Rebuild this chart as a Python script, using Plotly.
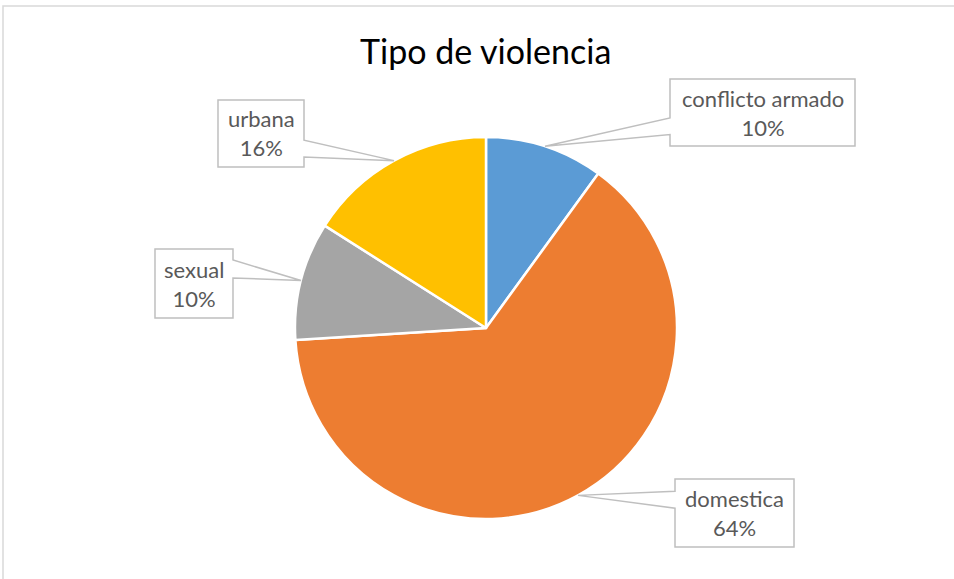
import math
import plotly.graph_objects as go

# ---- data ----
categories = ["conflicto armado", "domestica", "sexual", "urbana"]
values = [10, 64, 10, 16]
colors = ["#5B9BD5", "#ED7D31", "#A5A5A5", "#FFC000"]
title_text = "Tipo de violencia"

# ---- layout constants (pixels) ----
W, H = 954, 579
PIE_CX, PIE_CY, PIE_R = 486, 328, 191
# label boxes: left, top, right, bottom, wedge side, wedge base (start, end) as fraction of box height
BOXES = {
    "conflicto armado": (670, 79, 855, 146, "left", 0.58, 0.83),
    "domestica": (675, 479, 794, 547, "left", 0.18, 0.43),
    "sexual": (155, 249, 233, 318, "right", 0.16, 0.42),
    "urbana": (218, 100, 304, 167, "right", 0.60, 0.85),
}
FONT = "Lato, Carlito, sans-serif"


def px(x):
    return x / W


def py(y):
    return 1 - y / H


fig = go.Figure()
fig.add_trace(go.Pie(
    labels=categories,
    values=values,
    marker=dict(colors=colors, line=dict(color="white", width=2.5)),
    sort=False,
    direction="clockwise",
    rotation=0,
    textinfo="none",
    hoverinfo="label+percent",
    showlegend=False,
    domain=dict(x=[px(PIE_CX - PIE_R), px(PIE_CX + PIE_R)],
                y=[py(PIE_CY + PIE_R), py(PIE_CY - PIE_R)]),
))

shapes = []
annotations = []

# outer chart border (cropped frame)
shapes.append(dict(type="rect", xref="paper", yref="paper",
                   x0=px(3), x1=px(W + 10), y0=py(H + 10), y1=py(6),
                   line=dict(color="#D9D9D9", width=1.5), fillcolor="rgba(0,0,0,0)",
                   layer="below"))

total = sum(values)
cum = 0
for cat, v in zip(categories, values):
    mid = (cum + v / 2) / total * 2 * math.pi
    cum += v
    tx = PIE_CX + PIE_R * math.sin(mid)
    ty = PIE_CY - PIE_R * math.cos(mid)
    L, T, R, B, side, f1, f2 = BOXES[cat]
    h = B - T
    b1, b2 = T + f1 * h, T + f2 * h
    if side == "left":
        pts = [(L, T), (R, T), (R, B), (L, B), (L, b2), (tx, ty), (L, b1)]
    else:
        pts = [(L, T), (R, T), (R, b1), (tx, ty), (R, b2), (R, B), (L, B)]
    path = "M " + " L ".join(f"{px(x):.5f},{py(y):.5f}" for x, y in pts) + " Z"
    shapes.append(dict(type="path", xref="paper", yref="paper", path=path,
                       fillcolor="white", line=dict(color="#BFBFBF", width=1.5)))
    pct = round(v / total * 100)
    annotations.append(dict(
        x=px((L + R) / 2), y=py((T + B) / 2), xref="paper", yref="paper",
        text=f"{cat}<br>{pct}%", showarrow=False, align="center",
        xanchor="center", yanchor="middle",
        font=dict(family=FONT, size=22, color="#595959"),
    ))

annotations.append(dict(
    x=px(485), y=py(51), xref="paper", yref="paper", text=title_text,
    showarrow=False, xanchor="center", yanchor="middle",
    font=dict(family=FONT, size=34, color="#000000"),
))

fig.update_layout(
    width=W, height=H,
    margin=dict(l=0, r=0, t=0, b=0),
    paper_bgcolor="white", plot_bgcolor="white",
    shapes=shapes, annotations=annotations,
)

fig.write_html("out.html", config={"displayModeBar": False},
               post_script="document.body.style.margin='0px';")
